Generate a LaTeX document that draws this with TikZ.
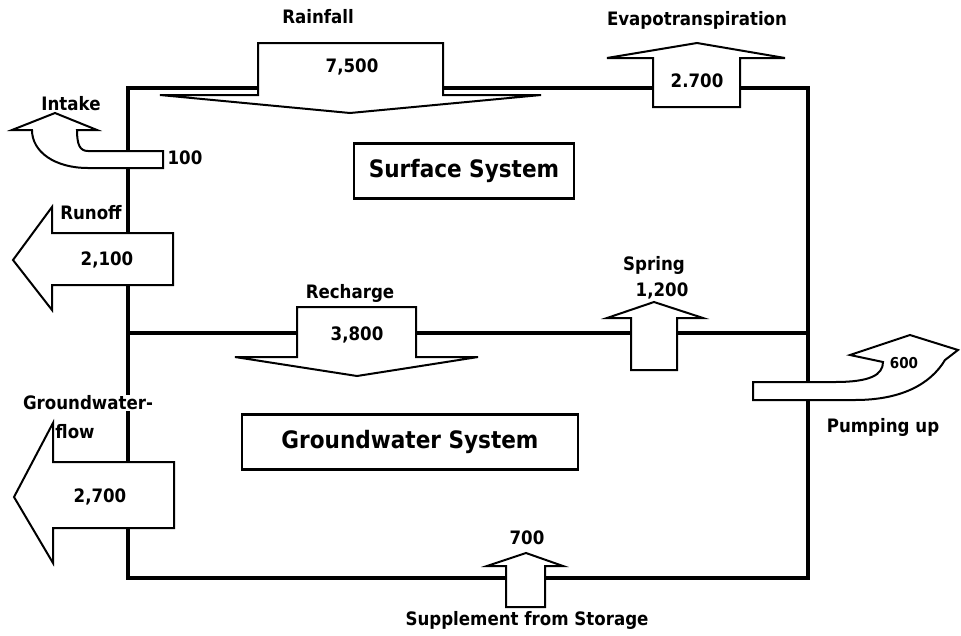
\documentclass[tikz,border=0pt]{standalone}
\usepackage{fontspec}
\setmainfont{DejaVu Sans Condensed}[BoldFont={DejaVu Sans Condensed Bold}]
\begin{document}
\begin{tikzpicture}[x=1pt,y=-1pt,
  frame/.style={line width=3.8pt, line cap=rect},
  flowarrow/.style={draw, fill=white, line width=2pt, line join=miter},
  lbl/.style={font=\fontsize{18.5}{20}\selectfont\bfseries, inner sep=1pt},
  small/.style={font=\fontsize{15}{16}\selectfont\bfseries, inner sep=1pt},
  sysbox/.style={draw, line width=2.2pt, font=\fontsize{24}{28}\selectfont\bfseries, inner sep=0pt, anchor=center}]
\useasboundingbox (0,0) rectangle (961,635);
% frame coordinates
\coordinate (tl) at (128,88);
\coordinate (tr) at (808,88);
\coordinate (bl) at (128,578);
\coordinate (br) at (808,578);
\coordinate (ml) at (128,333);
\coordinate (mr) at (808,333);
\draw[frame] (tl) -- (tr) -- (br) -- (bl) -- cycle;
\draw[frame] (ml) -- (mr);
% system boxes
\node[sysbox, minimum width=220pt, minimum height=55pt] (surf) at (464,171) {Surface System};
\node[sysbox, minimum width=336pt, minimum height=55pt] (gw) at (410,442) {Groundwater System};
% rainfall
\draw[flowarrow] (258,95) -- (258,43) -- (443,43) -- (443,95) -- (541,95) -- (350,113) -- (160,95) -- cycle;
\node[lbl] (rainlbl) at (318,17) {Rainfall};
\node[lbl] (rainval) at (352,67) {7,500};
% evapotranspiration
\draw[flowarrow] (653,107) -- (653,58) -- (607,58) -- (697,43) -- (785,58) -- (740,58) -- (740,107) -- cycle;
\node[lbl] (evlbl) at (697,20) {Evapotranspiration};
\node[lbl] (evval) at (697,81) {2.700};
% intake
\draw[flowarrow] (163,151) -- (163,168) -- (88,168) .. controls (55,168) and (32,152) .. (32,130) -- (12,130) -- (55,113) -- (97,130) -- (77,130) .. controls (77,145) and (80,151) .. (88,151) -- cycle;
\node[lbl] (intlbl) at (71,104) {Intake};
\node[lbl] (intval) at (185,158) {100};
% runoff
\draw[flowarrow] (173,233) -- (52,233) -- (52,207) -- (13,260) -- (52,310) -- (52,285) -- (173,285) -- cycle;
\node[lbl] (runlbl) at (91,213) {Runoff};
\node[lbl] (runval) at (107,260) {2,100};
% recharge
\draw[flowarrow] (297,357) -- (297,307) -- (416,307) -- (416,357) -- (478,357) -- (357,376) -- (235,357) -- cycle;
\node[lbl] (reclbl) at (350,293) {Recharge};
\node[lbl] (recval) at (357,335) {3,800};
% spring
\draw[flowarrow] (631,370) -- (631,318) -- (607,318) -- (654,302) -- (703,318) -- (677,318) -- (677,370) -- cycle;
\node[lbl] (sprlbl) at (654,265) {Spring};
\node[lbl] (sprval) at (662,291) {1,200};
% pumping up
\draw[flowarrow] (753,382) -- (835,382) .. controls (870,382) and (883,375) .. (883,362) -- (850,355) -- (910,335) -- (958,350) -- (945,360) .. controls (930,385) and (900,400) .. (855,400) -- (753,400) -- cycle;
\node[small] (pumpval) at (904,363) {600};
\node[lbl] (pumplbl) at (883,427) {Pumping up};
% groundwater flow
\draw[flowarrow] (174,462) -- (53,462) -- (53,423) -- (14,497) -- (53,563) -- (53,528) -- (174,528) -- cycle;
\node[lbl, fill=white] (gwflbl) at (88,403) {Groundwater-};
\node[lbl] (gwflbl2) at (75,432) {flow};
\node[lbl] (gwfval) at (100,497) {2,700};
% supplement
\draw[flowarrow] (506,607) -- (506,566) -- (487,566) -- (526,553) -- (563,566) -- (545,566) -- (545,607) -- cycle;
\node[lbl] (supval) at (527,538) {700};
\node[lbl] (suplbl) at (527,620) {Supplement from Storage};
\end{tikzpicture}
\end{document}
